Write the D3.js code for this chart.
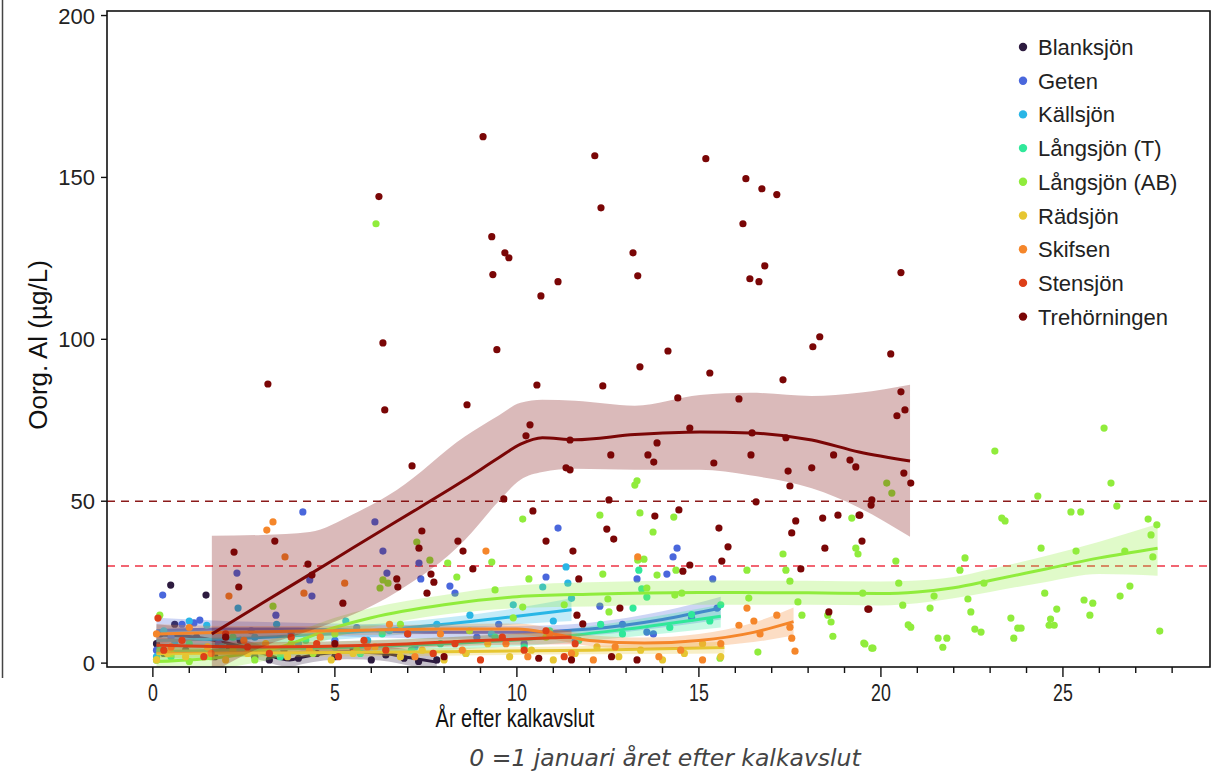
<!DOCTYPE html>
<meta charset="utf-8">
<style>
body { margin: 0; background: #fff; }
text { font-family: "Liberation Sans", Arial, sans-serif; }
</style>
<svg width="1220" height="775"></svg>
<script src="https://d3js.org/d3.v7.min.js"></script>
<script>

// lakes and colours
var lakes = ["Blanksjön", "Geten", "Källsjön", "Långsjön (T)", "Långsjön (AB)", "Rädsjön", "Skifsen", "Stensjön", "Trehörningen"];
var colours = ["#2d1b3f", "#4a67dc", "#29b6e6", "#30e89a", "#90ec3c", "#e6c632", "#f5862a", "#dd3f18", "#7a0606"];

var xTicks = [0, 5, 10, 15, 20, 25];
var yTicks = [0, 50, 100, 150, 200];
var limits = [50, 30];

// measured points [years, org Al]
var ptsBlanksjon = [[0.1,6],[0.2,9],[0.3,3],[0.49,24.1],[0.6,12],[0.9,4],[1.2,8],[1.46,21.0],[1.7,2],[2.1,5],[2.4,7],[2.8,2],[3.2,1],[3.6,4],[4.0,1.5],[4.5,3],[5.0,2],[5.5,4.5],[6.0,1],[6.4,2.5],[6.9,1.5],[7.3,0.5],[7.8,1]];
var ptsGeten = [[0.1,4],[0.27,21.0],[0.5,8],[0.8,12],[1.13,12.4],[1.29,13.3],[1.8,6],[2.31,27.8],[2.7,10],[3.38,14.8],[3.8,9],[4.12,46.7],[4.31,25.7],[4.37,20.7],[5.0,7],[5.6,11],[6.1,43.6],[6.32,34.6],[6.43,27.8],[7.0,9],[7.31,30.9],[7.36,26.0],[8.16,23.8],[8.3,21.6],[8.9,8],[9.5,12],[10.2,6],[10.8,26.6],[11.13,41.7],[11.6,7],[12.28,17.6],[12.9,12],[13.3,26.0],[13.57,9.6],[13.75,9.0],[14.12,27.5],[14.29,32.8],[14.4,35.5],[14.8,14],[15.38,26.0],[15.5,17]];
var ptsKallsjon = [[0.1,2],[0.3,10],[0.6,6],[1.0,13],[1.48,11.7],[1.9,5],[2.34,17.0],[2.8,8],[3.4,12],[4.0,6],[4.6,9],[5.3,13],[5.9,7],[6.5,10],[7.2,5],[7.8,12],[8.71,14.8],[9.3,9],[9.9,18],[10.71,23.5],[11.0,13],[11.35,29.7],[11.4,24.7],[11.5,20]];
var ptsLangsjonT = [[0.1,1],[0.2,4],[0.5,2],[1.0,6],[1.5,3],[2.2,8],[2.9,4],[3.5,2],[4.2,7],[5.0,5],[5.7,3],[6.3,9],[7.1,4],[7.9,6],[8.6,3],[9.4,8],[10.2,5],[10.9,10],[11.7,7],[12.3,12],[12.9,9],[13.19,17.0],[13.35,28.7],[13.43,22.9],[13.57,20.4],[14.2,11],[14.8,15],[15.3,13],[15.6,18]];
var ptsLangsjonAB = [[0.19,14.8],[0.1,1],[0.5,3],[1.0,0.5],[1.6,2],[2.2,4],[2.8,1],[3.3,17.6],[3.8,6],[4.4,3],[5.0,9],[5.6,4],[6.13,135.7],[6.24,23.2],[6.32,25.7],[6.46,24.7],[6.8,12],[7.25,37.4],[7.61,31.8],[8.1,30.9],[8.35,26.6],[8.7,10],[9.31,31.2],[9.4,22.6],[9.9,14],[10.16,44.5],[10.16,17.3],[10.33,26.0],[10.8,8],[11.3,18],[12.28,45.7],[12.36,27.5],[12.5,19.8],[12.53,15.8],[13.24,55.0],[13.3,56.3],[13.32,31.8],[13.38,46.4],[13.49,32.1],[13.57,23.2],[13.74,40.5],[13.85,27.2],[14.31,45.1],[14.34,21.0],[14.37,28.7],[14.53,21.6],[15.58,1.5],[16.32,28.7],[16.37,20.1],[16.62,3.4],[17.31,33.7],[17.39,28.7],[17.5,25.3],[17.72,18.9],[17.83,14.8],[18.54,14.8],[18.63,12.7],[18.68,8.3],[19.2,44.8],[19.53,6.2],[19.78,4.6],[20.41,31.5],[26.13,72.6],[23.13,65.5],[26.32,55.6],[26.48,48.5],[24.31,51.6],[25.22,46.7],[25.49,46.7],[23.32,44.8],[23.41,43.9],[27.34,44.5],[27.58,42.7],[27.42,39.6],[22.31,32.5],[22.17,28.7],[24.4,35.5],[25.36,34.6],[26.7,34.6],[27.47,32.8],[20.49,24.7],[19.31,35.5],[19.37,33.7],[20.16,55.6],[20.3,52.5],[19.5,21.6],[20.6,17.9],[21.35,17.0],[21.46,20.7],[20.82,11.1],[20.75,11.8],[21.57,7.7],[21.81,7.7],[21.7,4.9],[22.39,19.8],[22.47,15.8],[22.58,10.5],[22.75,9.6],[22.83,24.7],[23.57,13.9],[23.76,10.8],[23.85,10.8],[23.65,7.7],[24.5,21.6],[24.66,13.6],[24.83,16.7],[24.62,11.7],[24.76,11.7],[25.58,19.5],[25.82,18.5],[25.74,14.8],[26.57,20.7],[26.84,23.8],[27.66,9.9],[19.56,5.9],[19.75,4.6]];
var ptsRadsjon = [[0.1,1],[0.4,3],[0.9,2],[1.5,5],[2.0,1],[2.6,3],[3.1,6],[3.7,2],[4.3,4],[4.9,1],[5.5,3],[6.1,5],[6.8,2],[7.4,4],[8.0,1],[8.6,3],[9.2,6],[9.8,2],[10.4,4],[11.0,1],[11.6,3],[12.2,5],[12.8,2],[13.4,4],[14.0,1],[14.6,3],[15.1,6],[15.6,2]];
var ptsSkifsen = [[0.1,9],[0.5,5],[1.0,11],[1.6,3],[2.09,20.7],[2.5,7],[3.13,41.1],[3.3,43.6],[3.63,32.8],[4.15,21.6],[4.6,8],[5.27,24.7],[5.9,5],[6.5,12],[7.2,2],[7.9,9],[8.5,4],[9.15,34.6],[9.7,6],[10.3,2],[10.9,9],[11.5,3],[12.1,1],[12.7,5],[13.32,32.8],[13.9,2],[14.5,4],[15.1,1],[15.6,6],[16.1,11.7],[16.32,17.0],[16.51,13.0],[16.68,9.0],[17.14,14.8],[17.5,11.1],[17.55,7.7],[17.64,3.7]];
var ptsStensjon = [[0.14,13.9],[0.3,4],[0.8,7],[1.4,2],[2.0,9],[2.6,5],[3.2,3],[3.8,8],[4.5,6],[5.1,2],[5.8,7],[6.4,4],[7.0,9],[7.7,3],[8.3,6],[9.0,1],[9.6,8],[10.2,4],[10.8,10],[11.3,2],[11.6,6]];
var ptsTrehorningen = [[6.21,144.1],[9.07,162.6],[9.31,131.7],[9.67,126.7],[9.78,125.2],[9.34,120.0],[9.45,96.8],[10.66,113.4],[11.13,117.8],[12.14,156.7],[12.31,140.6],[13.19,126.7],[13.32,119.6],[15.19,155.8],[16.21,135.7],[16.29,149.6],[16.73,146.5],[17.14,144.7],[16.81,122.7],[16.4,118.7],[16.65,117.8],[20.55,120.6],[18.32,100.8],[18.13,97.7],[20.27,95.5],[14.15,96.4],[13.38,91.5],[12.36,85.6],[15.3,89.6],[17.31,87.5],[20.55,83.8],[6.32,98.9],[6.37,78.2],[3.16,86.2],[10.55,85.9],[8.63,79.8],[10.36,73.6],[10.25,70.2],[7.12,60.9],[11.46,68.9],[11.35,60.3],[11.46,59.7],[12.58,64.3],[13.6,64.3],[13.76,62.1],[13.85,68.0],[14.42,81.9],[14.75,72.6],[15.41,61.8],[16.1,81.6],[16.43,64.3],[16.46,71.1],[17.39,69.6],[17.45,59.3],[18.1,60.3],[18.7,64.3],[19.15,62.7],[20.44,76.4],[20.66,78.2],[2.23,34.3],[3.35,37.7],[2.36,23.5],[4.26,30.6],[4.37,27.2],[5.22,18.5],[7.39,40.8],[7.31,35.5],[7.64,27.5],[7.72,25.0],[7.53,21.6],[8.38,37.7],[8.52,34.6],[8.79,29.1],[9.64,50.7],[6.7,26.0],[6.73,23.5],[10.44,47.0],[10.8,37.7],[11.54,34.6],[11.7,26.0],[12.47,41.4],[12.53,50.4],[12.66,38.3],[13.79,45.4],[14.45,47.3],[14.56,28.4],[14.75,30.3],[15.55,41.7],[15.8,35.9],[15.63,31.5],[12.83,17.0],[11.65,14.8],[11.81,12.1],[16.57,49.8],[17.5,54.7],[17.55,40.2],[17.66,43.9],[18.4,44.8],[18.82,45.7],[19.4,45.7],[19.48,37.7],[18.46,35.5],[17.8,29.1],[18.57,15.8],[19.64,16.7],[19.75,50.4],[19.73,48.8],[19.31,60.6],[20.63,58.7],[20.82,55.6],[19.42,45.7],[19.67,16.7],[2.0,8],[5.0,6],[8.0,2],[10.6,1.5],[11.5,1],[12.6,2],[13.3,1]];

// fitted curves [years, fit, lower, upper]
var fitBlanksjon = [[0.1,8.7,5.5,12],[1.0,8.2,5.5,11],[1.65,7.1,4.5,9.8],[2.4,5.2,2.8,7.6],[3.0,3.1,0.8,5.5],[3.76,1.0,-1.2,3.2],[4.12,1.9,-0.3,4.1],[4.7,3.0,0.8,5.2],[5.33,3.4,1.2,5.6],[6.24,3.1,0.8,5.4],[7.14,1.5,-1,4],[7.8,0.3,-2.5,3.1]];
var fitGeten = [[0.1,10,6,14],[2,10.5,8,13],[4,10.5,8.5,12.5],[6,10,8,12],[8,9.5,7.5,11.5],[10,9.5,7.5,11.5],[12,10.5,8.5,12.5],[14,13.5,11,16],[15.6,17,13.5,20.5]];
var fitKallsjon = [[0.1,7,3.5,10.5],[2,7.5,5,10],[4,8.5,6.5,10.5],[6,10,8,12],[8,12,10,14],[10,14.5,12,17],[11.5,16.5,13,20]];
var fitLangsjonT = [[0.1,3.5,1,6],[4,4.5,2.5,6.5],[8,6,4,8],[11,8,6,10],[13,10.5,8,13],[15.6,14.5,11,18]];
var fitLangsjonAB = [[0.1,0.5,-4,5],[2,2,-1.5,5.5],[3.5,5,2,8],[5,11,8,14],[6,14,11,17],[8,18,15,21],[10,20.5,17,24],[12,21.3,17.5,25],[15,21.8,18,25.5],[18,21.7,18,25.4],[20,21.5,17.8,25.2],[21,22,18.5,25.5],[22,23.3,20,26.6],[23,25.5,22,29],[24.5,29,25,33],[26,32.5,27.5,37.5],[27.6,35.5,27,43]];
var fitRadsjon = [[0.1,3,1.5,4.5],[4,3.2,2,4.4],[8,3.5,2.3,4.7],[12,4,2.7,5.3],[15.7,4.8,3,6.6]];
var fitSkifsen = [[0.1,9,6,12],[2,9.5,7.5,11.5],[5,10,8.5,11.5],[8,10.5,9,12],[10,10.5,8.8,12.2],[11,9,7.3,10.7],[12,7,5.3,8.7],[13.5,6.2,4.5,7.9],[15,7,5,9],[16.5,9.5,6.5,12.5],[17.6,12.8,8.5,17.2]];
var fitStensjon = [[0.1,5.5,3,8],[3,5,3.5,6.5],[6,5.5,4,7],[9,7,5.5,8.5],[11.5,8,5.8,10.2]];
var fitTrehorningen = [[1.62,9.0,-3,39.3],[3,18.5,5,39.6],[4.31,27.4,10,40.5],[5.5,35.6,15,46],[6.7,43.8,22,53.5],[8.57,56.6,38,70],[9.5,63.4,50,76.5],[10.1,67.6,56.6,80.4],[10.7,69.6,59,81.3],[11.6,69.0,60,81],[13.24,70.6,59.7,79.5],[15.03,71.4,59.7,82.8],[16.4,71.1,58,83.5],[18.1,68.9,54,82.5],[19.4,65.2,48,83.5],[20.8,62.4,39,86]];

var points = [ptsBlanksjon, ptsGeten, ptsKallsjon, ptsLangsjonT, ptsLangsjonAB, ptsRadsjon, ptsSkifsen, ptsStensjon, ptsTrehorningen];
var fits = [fitBlanksjon, fitGeten, fitKallsjon, fitLangsjonT, fitLangsjonAB, fitRadsjon, fitSkifsen, fitStensjon, fitTrehorningen];

var svg = d3.select("svg");
var pLeft = 107, pRight = 1210, pTop = 11, pBottom = 667;

var x = d3.scaleLinear().domain([-1.26, 29.04]).range([pLeft, pRight]);
var y = d3.scaleLinear().domain([-1.2, 201.4]).range([pBottom, pTop]);

svg.append("defs").append("clipPath").attr("id", "plot")
  .append("rect").attr("x", pLeft).attr("y", pTop).attr("width", pRight - pLeft).attr("height", pBottom - pTop);

// stray frame edge at the far left of the picture
svg.append("line").attr("x1", 2.5).attr("x2", 2.5).attr("y1", 0).attr("y2", 678)
  .style("stroke", "#444").style("stroke-width", 1.5);

var plot = svg.append("g").attr("clip-path", "url(#plot)");

// threshold lines
plot.append("line").attr("x1", pLeft).attr("x2", pRight).attr("y1", y(limits[0])).attr("y2", y(limits[0]))
  .style("stroke", "#8b1a1a").style("stroke-width", 1.6).style("stroke-dasharray", "8,6");
plot.append("line").attr("x1", pLeft).attr("x2", pRight).attr("y1", y(limits[1])).attr("y2", y(limits[1]))
  .style("stroke", "#ee3344").style("stroke-width", 1.6).style("stroke-dasharray", "8,6");

var line = d3.line().x(function(d) { return x(d[0]); }).y(function(d) { return y(d[1]); }).curve(d3.curveMonotoneX);
var area = d3.area().x(function(d) { return x(d[0]); }).y0(function(d) { return y(d[2]); }).y1(function(d) { return y(d[3]); }).curve(d3.curveMonotoneX);

lakes.forEach(function(lake, i) {
  var g = plot.append("g");
  g.selectAll("circle").data(points[i]).enter().append("circle")
    .attr("cx", function(d) { return x(d[0]); })
    .attr("cy", function(d) { return y(d[1]); })
    .attr("r", 3.6)
    .style("fill", colours[i]);
  g.append("path").datum(fits[i]).attr("d", area)
    .style("fill", colours[i]).style("opacity", 0.28);
  g.append("path").datum(fits[i]).attr("d", line)
    .style("fill", "none").style("stroke", colours[i]).style("stroke-width", 3);
});

// frame
svg.append("rect").attr("x", pLeft).attr("y", pTop).attr("width", pRight - pLeft).attr("height", pBottom - pTop)
  .style("fill", "none").style("stroke", "#111").style("stroke-width", 1.6);

// x axis, major + minor ticks
var xg = svg.append("g");
xg.selectAll("line").data(d3.range(0, 29)).enter().append("line")
  .attr("x1", function(d) { return x(d); }).attr("x2", function(d) { return x(d); })
  .attr("y1", pBottom).attr("y2", function(d) { return xTicks.indexOf(d) >= 0 ? pBottom + 10 : pBottom + 6; })
  .style("stroke", "#111").style("stroke-width", 1.4);
// tick labels are narrow in the original, squeeze them
xg.selectAll("text").data(xTicks).enter().append("text")
  .attr("transform", function(d) { return "translate(" + x(d) + ",701) scale(0.74,1)"; })
  .attr("text-anchor", "middle").style("font-size", "24px").style("fill", "#222")
  .text(function(d) { return d; });
xg.append("text").attr("transform", "translate(515,727) scale(0.8,1)").attr("text-anchor", "middle")
  .style("font-size", "25px").style("fill", "#111").text("År efter kalkavslut");

svg.append("text").attr("x", 665).attr("y", 766).attr("text-anchor", "middle")
  .style("font-family", "'DejaVu Sans', sans-serif").style("font-style", "italic")
  .style("font-size", "23.5px").style("fill", "#444")
  .text("0 =1 januari året efter kalkavslut");

// y axis
var yg = svg.append("g");
yg.selectAll("line").data(yTicks).enter().append("line")
  .attr("x1", pLeft - 6).attr("x2", pLeft).attr("y1", function(d) { return y(d); }).attr("y2", function(d) { return y(d); })
  .style("stroke", "#111").style("stroke-width", 1.4);
yg.selectAll("text").data(yTicks).enter().append("text")
  .attr("x", pLeft - 12).attr("y", function(d) { return y(d) + 8; })
  .attr("text-anchor", "end").style("font-size", "22px").style("fill", "#222")
  .text(function(d) { return d; });
svg.append("text").attr("transform", "translate(47,345) rotate(-90)")
  .attr("text-anchor", "middle").style("font-size", "26px").style("fill", "#111")
  .text("Oorg. Al (µg/L)");

// legend
var lg = svg.append("g");
lakes.forEach(function(lake, i) {
  var ly = 47 + i * 33.7;
  lg.append("circle").attr("cx", 1023).attr("cy", ly).attr("r", 4.2).style("fill", colours[i]);
  lg.append("text").attr("x", 1038).attr("y", ly + 8).style("font-size", "22px").style("fill", "#222").text(lake);
});

</script>
